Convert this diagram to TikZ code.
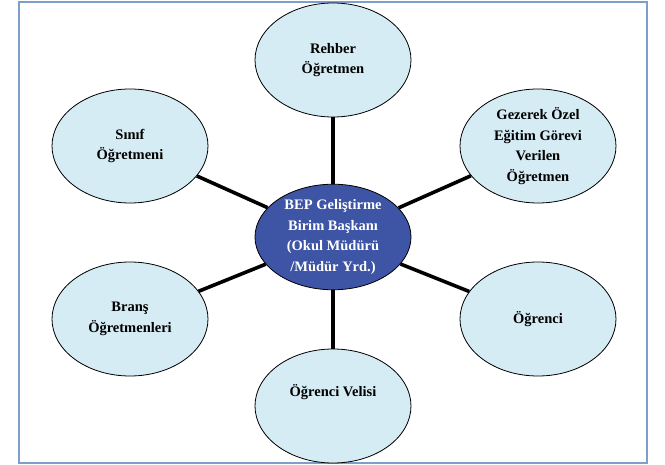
\documentclass[tikz,border=0pt]{standalone}
\usepackage{fontspec}
\setmainfont{Liberation Serif}
\usetikzlibrary{positioning,shapes.geometric}
\definecolor{leafblue}{RGB}{213,236,244}
\definecolor{headblue}{RGB}{62,84,164}
\definecolor{framecol}{RGB}{128,158,202}
\tikzset{line/.style={draw, line width=3.6pt},
  leaf/.style={ellipse, draw, thick, fill=leafblue, minimum width=156pt, minimum height=114pt,
    inner sep=0pt, align=center, font=\bfseries\fontsize{14.5}{20.5}\selectfont},
  head/.style={leaf, fill=headblue, minimum height=102pt, text=white}}

\begin{document}
\begin{tikzpicture}[x=1pt,y=-1pt]
\useasboundingbox (0,0) rectangle (665,465);
\draw[framecol, line width=2pt] (19,2) rectangle (647,463);
\node [head] (bep) at (333,237) {BEP Geliştirme\\Birim Başkanı\\(Okul Müdürü\\/Müdür Yrd.)};
\node [leaf] (rehber) at (333,60) {Rehber\\Öğretmen};
\node [leaf] (sinif) at (130,146) {Sınıf\\Öğretmeni};
\node [leaf] (gezerek) at (538,146) {Gezerek Özel\\Eğitim Görevi\\Verilen\\Öğretmen};
\node [leaf] (brans) at (130,319) {Branş\\Öğretmenleri};
\node [leaf] (ogrenci) at (538,319) {Öğrenci};
\node [leaf] (veli) at (333,406) {Öğrenci Velisi\\[10pt]};
% baglantilar
\foreach \n in {rehber,sinif,gezerek,brans,ogrenci,veli}
  \path [line] (bep) -- (\n);
\end{tikzpicture}
\end{document}
